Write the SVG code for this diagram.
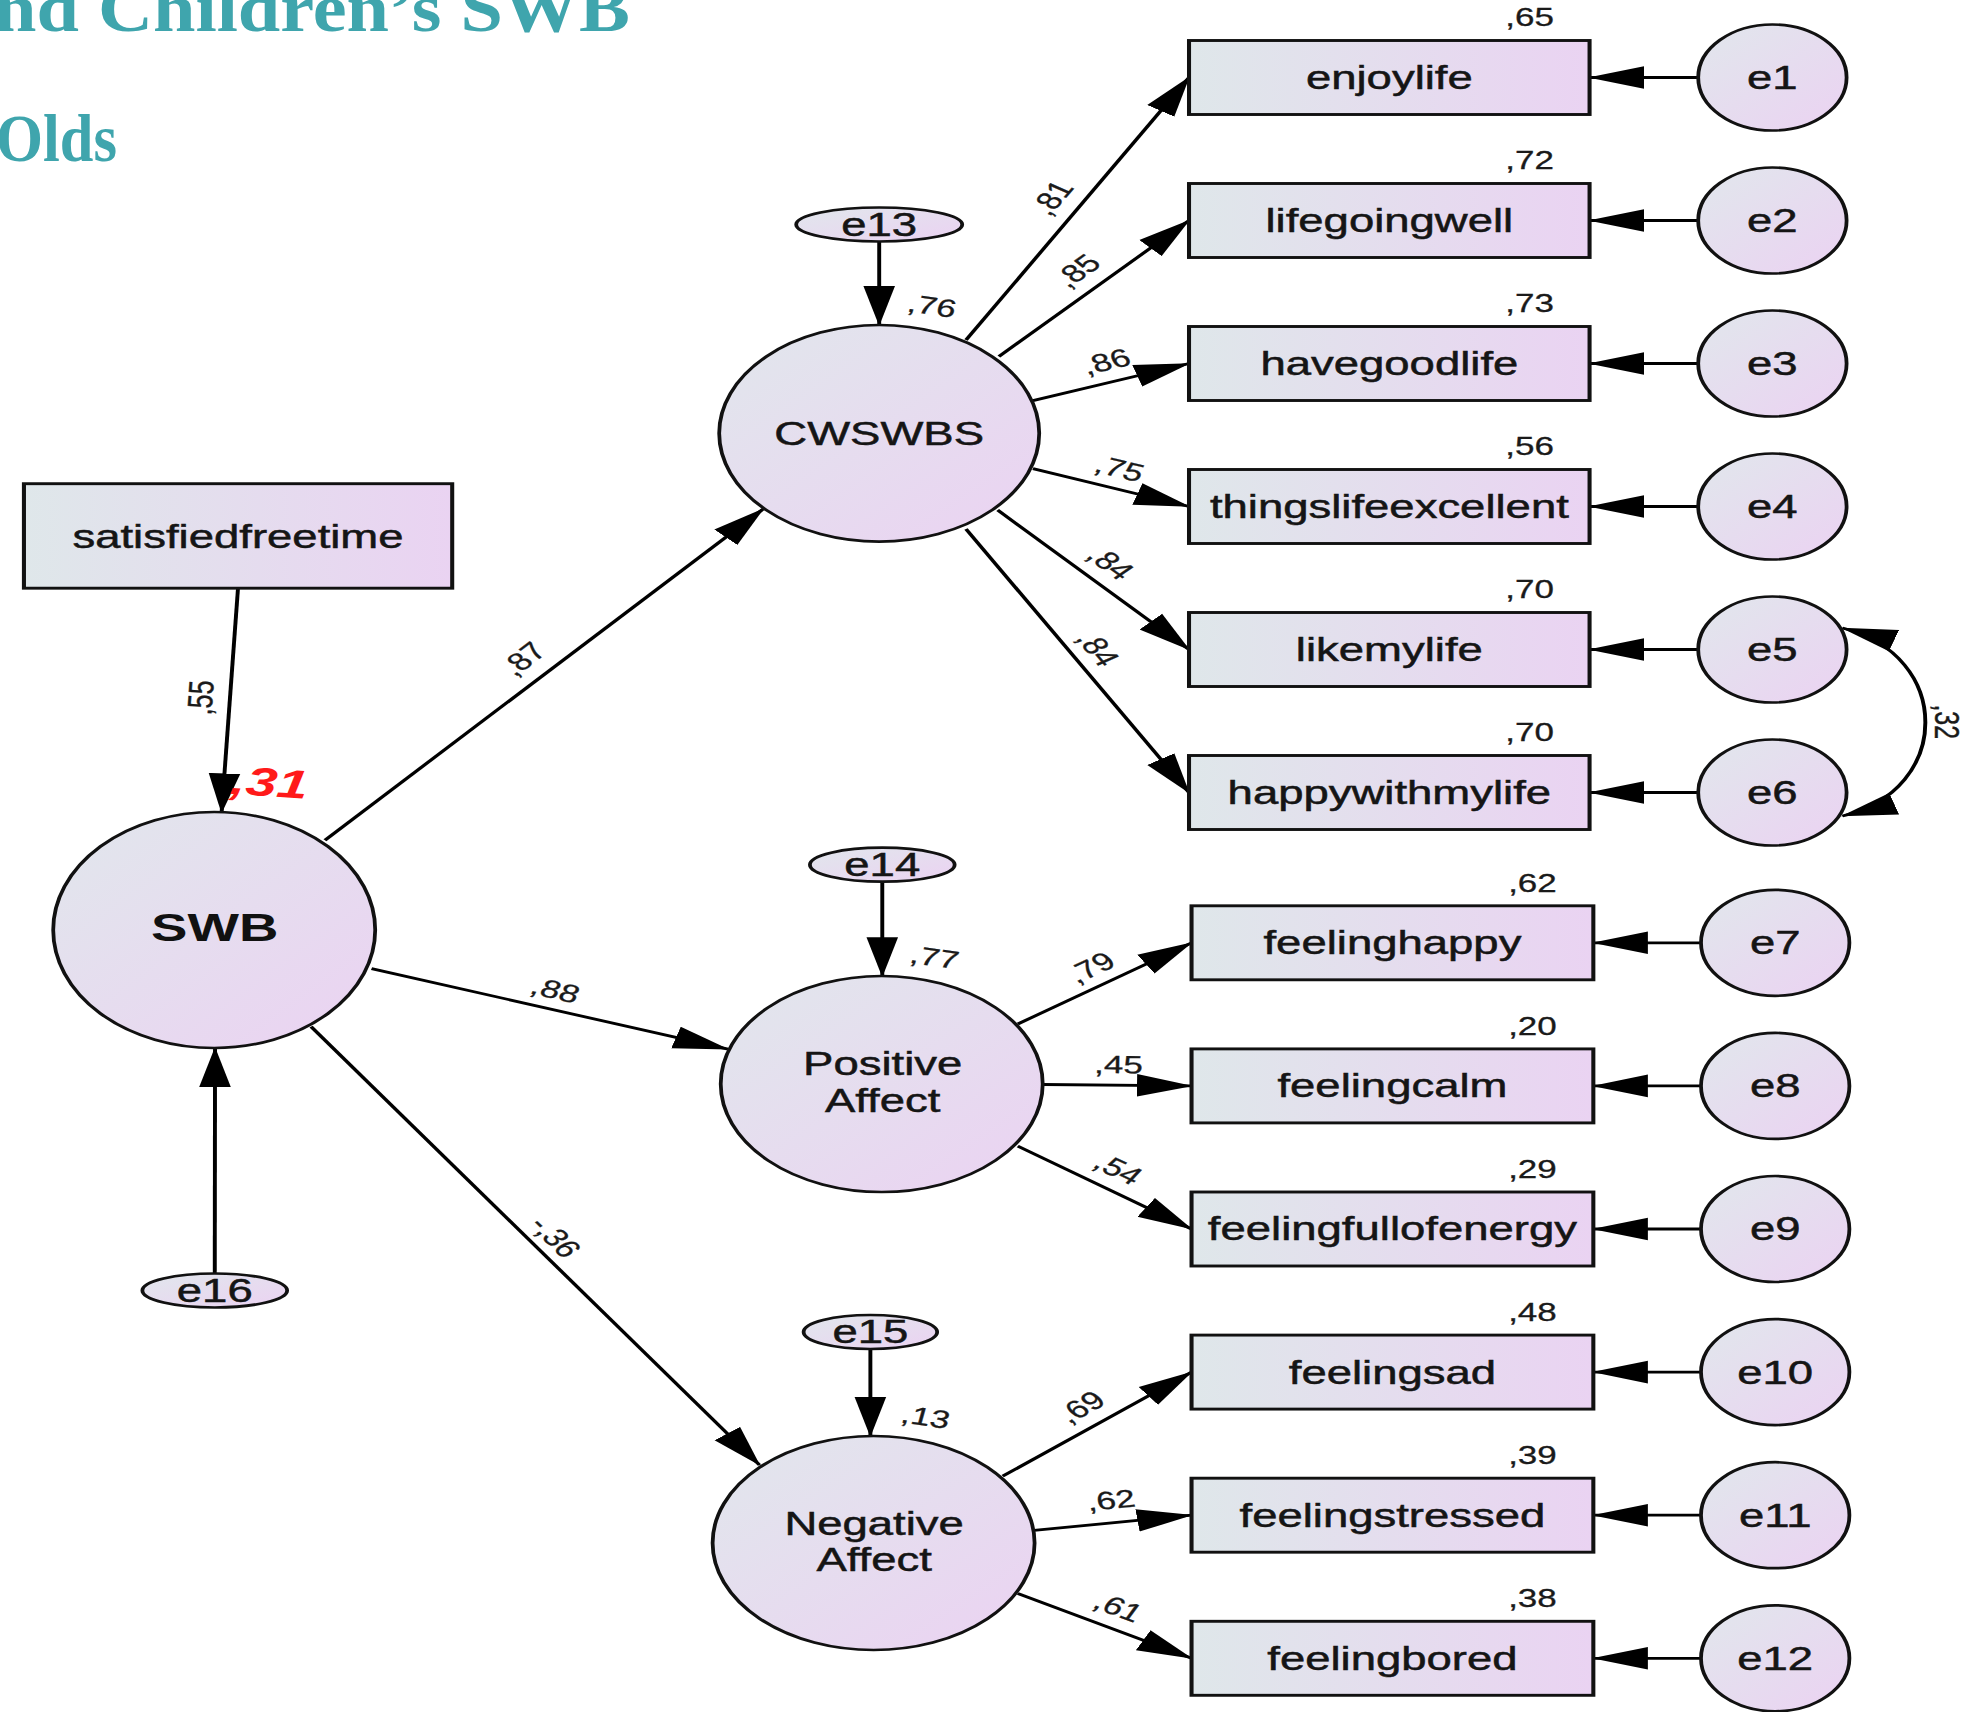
<svg xmlns="http://www.w3.org/2000/svg" width="1975" height="1712" viewBox="0 0 1975 1712">
  <defs>
    <linearGradient id="gRect" x1="0" y1="0" x2="1" y2="0">
      <stop offset="0" stop-color="#dfe7ea"/>
      <stop offset="1" stop-color="#ead3f2"/>
    </linearGradient>
    <linearGradient id="gOval" x1="0" y1="0" x2="1" y2="1">
      <stop offset="0" stop-color="#e1e7ec"/>
      <stop offset="1" stop-color="#ebd2f2"/>
    </linearGradient>
    <marker id="ah" markerUnits="userSpaceOnUse" markerWidth="40" markerHeight="24" viewBox="0 0 39 22" refX="38" refY="11" orient="auto-start-reverse">
      <path d="M0,0 L39,11 L0,22 z" fill="#000"/>
    </marker>
  </defs>
  <style>
    .box{fill:url(#gRect);stroke:#111;stroke-width:2.9}
    .oval{fill:url(#gOval);stroke:#111;stroke-width:2.7}
    .lbl{font-family:"Liberation Sans",Arial,sans-serif;font-size:32.5px;fill:#151515;stroke:#151515;stroke-width:0.5;text-anchor:middle}
    .big{font-family:"Liberation Sans",Arial,sans-serif;font-size:39px;font-weight:bold;fill:#111;text-anchor:middle}
    .coef{font-family:"Liberation Sans",Arial,sans-serif;font-size:25px;fill:#1a1a1a;stroke:#1a1a1a;stroke-width:0.3;text-anchor:middle}
    .r2{font-family:"Liberation Sans",Arial,sans-serif;font-size:25px;fill:#1a1a1a;stroke:#1a1a1a;stroke-width:0.3;text-anchor:end}
    .red{font-family:"Liberation Sans",Arial,sans-serif;font-size:40px;font-weight:bold;font-style:italic;fill:#ff1a1a;text-anchor:middle}
    .edge{stroke:#000;stroke-width:2.8;fill:none;marker-end:url(#ah)}
    .both{stroke:#000;stroke-width:2.8;fill:none;marker-start:url(#ah);marker-end:url(#ah)}
    .title{font-family:"Liberation Serif","Times New Roman",serif;font-weight:bold;fill:#3fa5ad;font-size:67px}
  </style>

  <!-- heading fragments -->
  <g id="heading">
    <text class="title" x="-6" y="31" textLength="636" lengthAdjust="spacingAndGlyphs">nd Children’s SWB</text>
    <text class="title" x="-4" y="161" textLength="121" lengthAdjust="spacingAndGlyphs">Olds</text>
  </g>

  <!-- path model, drawn in a horizontally widened frame -->
  <g id="model" transform="scale(1.4,1)">
    <g id="connectors">
      <path class="edge" d="M170,588.2 L158.3,812.4"/>
      <path class="edge" d="M232.1,840.2 L545.2,508.9"/>
      <path class="edge" d="M265.4,968.6 L520,1049.2"/>
      <path class="edge" d="M222.2,1026.6 L542.5,1465"/>
      <path class="edge" d="M153.4,1273.5 L153.6,1048"/>
      <path class="edge" d="M628,241.5 L628,325"/>
      <path class="edge" d="M630.2,881.7 L630.2,976.2"/>
      <path class="edge" d="M621.7,1349 L621.7,1436"/>

      <path class="edge" d="M690,340.1 L849.3,77.5"/>
      <path class="edge" d="M713.5,356.5 L849.3,220.5"/>
      <path class="edge" d="M737.8,400.6 L849.3,363.5"/>
      <path class="edge" d="M737.8,468.6 L849.3,506.5"/>
      <path class="edge" d="M712.6,510.1 L849.3,649.5"/>
      <path class="edge" d="M690,529 L849.3,792.5"/>
      <path class="edge" d="M727,1024 L851.1,942.8"/>
      <path class="edge" d="M745,1084.5 L851.1,1085.9"/>
      <path class="edge" d="M727,1146.2 L851.1,1229"/>
      <path class="edge" d="M716.2,1476.2 L851.1,1372.1"/>
      <path class="edge" d="M738.6,1530.4 L851.1,1515.2"/>
      <path class="edge" d="M727,1593.4 L851.1,1658.3"/>

      <path class="edge" d="M1213,77.5 L1135.4,77.5"/>
      <path class="edge" d="M1213,220.5 L1135.4,220.5"/>
      <path class="edge" d="M1213,363.5 L1135.4,363.5"/>
      <path class="edge" d="M1213,506.5 L1135.4,506.5"/>
      <path class="edge" d="M1213,649.5 L1135.4,649.5"/>
      <path class="edge" d="M1213,792.5 L1135.4,792.5"/>
      <path class="edge" d="M1215,942.8 L1138.1,942.8"/>
      <path class="edge" d="M1215,1085.9 L1138.1,1085.9"/>
      <path class="edge" d="M1215,1229 L1138.1,1229"/>
      <path class="edge" d="M1215,1372.1 L1138.1,1372.1"/>
      <path class="edge" d="M1215,1515.2 L1138.1,1515.2"/>
      <path class="edge" d="M1215,1658.3 L1138.1,1658.3"/>

      <path class="both" d="M1316,628 C1395,655 1395,790 1316,816"/>

      <!-- path coefficients -->
      <text class="coef" transform="translate(143,697.8) rotate(-87)" dy="0.35em">,55</text>
      <text class="coef" transform="translate(373.4,658.8) rotate(-46.6)" dy="0.35em">,87</text>
      <text class="coef" transform="translate(396.8,990) rotate(17.6)" dy="0.35em">,88</text>
      <text class="coef" transform="translate(396.8,1236.9) rotate(53.9)" dy="0.35em">-,36</text>
      <text class="coef" transform="translate(751.2,197.8) rotate(-58.7)" dy="0.35em">,81</text>
      <text class="coef" transform="translate(769.2,270.8) rotate(-45)" dy="0.35em">,85</text>
      <text class="coef" transform="translate(790,361.5) rotate(-18.2)" dy="0.35em">,86</text>
      <text class="coef" transform="translate(799.8,468.6) rotate(18.7)" dy="0.35em">,75</text>
      <text class="coef" transform="translate(793.5,563) rotate(45.6)" dy="0.35em">,84</text>
      <text class="coef" transform="translate(784.5,648.7) rotate(58.8)" dy="0.35em">,84</text>
      <text class="coef" transform="translate(779.1,967.4) rotate(-33.2)" dy="0.35em">,79</text>
      <text class="coef" transform="translate(799,1064.4) rotate(0.8)" dy="0.35em">,45</text>
      <text class="coef" transform="translate(799,1169) rotate(33.8)" dy="0.35em">,54</text>
      <text class="coef" transform="translate(772,1407) rotate(-37.6)" dy="0.35em">,69</text>
      <text class="coef" transform="translate(793.5,1500) rotate(-7.6)" dy="0.35em">,62</text>
      <text class="coef" transform="translate(799,1607.2) rotate(27.6)" dy="0.35em">,61</text>
      <text class="coef" transform="translate(1391,721.8) rotate(90)" dy="0.35em">,32</text>
    </g>

    <!-- exogenous indicator -->
    <g id="satisfiedfreetime">
      <rect class="box" x="17.1" y="483.7" width="305.9" height="104.5"/>
      <text class="lbl" x="170" y="548">satisfiedfreetime</text>
    </g>

    <!-- latent variables -->
    <g id="SWB">
      <ellipse class="oval" cx="153" cy="930" rx="115" ry="118"/>
      <text class="big" x="153.4" y="941">SWB</text>
      <text class="red" transform="translate(192.5,782.2) rotate(5)" dy="0.35em">,31</text>
    </g>
    <g id="CWSWBS">
      <ellipse class="oval" cx="628" cy="433.3" rx="114.3" ry="108.3"/>
      <text class="lbl" x="628" y="445">CWSWBS</text>
      <text class="coef" transform="translate(665.8,306) rotate(11)" dy="0.35em">,76</text>
    </g>
    <g id="PositiveAffect">
      <ellipse class="oval" cx="629.8" cy="1084" rx="115" ry="108"/>
      <text class="lbl" x="630.5" y="1075.5">Positive</text>
      <text class="lbl" x="630.5" y="1112.5">Affect</text>
      <text class="coef" transform="translate(667.6,957.3) rotate(11)" dy="0.35em">,77</text>
    </g>
    <g id="NegativeAffect">
      <ellipse class="oval" cx="624" cy="1543" rx="115" ry="107"/>
      <text class="lbl" x="624.4" y="1535.5">Negative</text>
      <text class="lbl" x="624.4" y="1571">Affect</text>
      <text class="coef" transform="translate(661.3,1417) rotate(11)" dy="0.35em">,13</text>
    </g>

    <!-- disturbances -->
    <g id="e13"><ellipse class="oval" cx="628" cy="224.5" rx="59.3" ry="17"/><text class="lbl" x="628" y="236">e13</text></g>
    <g id="e14"><ellipse class="oval" cx="630.2" cy="864.7" rx="51.7" ry="17"/><text class="lbl" x="630.2" y="876">e14</text></g>
    <g id="e15"><ellipse class="oval" cx="621.7" cy="1332" rx="47.7" ry="17"/><text class="lbl" x="621.7" y="1343.5">e15</text></g>
    <g id="e16"><ellipse class="oval" cx="153.4" cy="1290.5" rx="51.7" ry="17"/><text class="lbl" x="153.4" y="1302">e16</text></g>

    <!-- observed indicators -->
    <g id="enjoylife"><rect class="box" x="849.3" y="40.5" width="286.1" height="74"/><text class="lbl" x="992.4" y="89">enjoylife</text><text class="r2" x="1110" y="26.5">,65</text></g>
    <g id="lifegoingwell"><rect class="box" x="849.3" y="183.5" width="286.1" height="74"/><text class="lbl" x="992.4" y="232">lifegoingwell</text><text class="r2" x="1110" y="169.5">,72</text></g>
    <g id="havegoodlife"><rect class="box" x="849.3" y="326.5" width="286.1" height="74"/><text class="lbl" x="992.4" y="375">havegoodlife</text><text class="r2" x="1110" y="312.5">,73</text></g>
    <g id="thingslifeexcellent"><rect class="box" x="849.3" y="469.5" width="286.1" height="74"/><text class="lbl" x="992.4" y="518">thingslifeexcellent</text><text class="r2" x="1110" y="455.5">,56</text></g>
    <g id="likemylife"><rect class="box" x="849.3" y="612.5" width="286.1" height="74"/><text class="lbl" x="992.4" y="661">likemylife</text><text class="r2" x="1110" y="598.5">,70</text></g>
    <g id="happywithmylife"><rect class="box" x="849.3" y="755.5" width="286.1" height="74"/><text class="lbl" x="992.4" y="804">happywithmylife</text><text class="r2" x="1110" y="741.5">,70</text></g>

    <g id="feelinghappy"><rect class="box" x="851.1" y="905.8" width="287" height="74"/><text class="lbl" x="994.6" y="954.3">feelinghappy</text><text class="r2" x="1112" y="891.8">,62</text></g>
    <g id="feelingcalm"><rect class="box" x="851.1" y="1048.9" width="287" height="74"/><text class="lbl" x="994.6" y="1097.4">feelingcalm</text><text class="r2" x="1112" y="1034.9">,20</text></g>
    <g id="feelingfullofenergy"><rect class="box" x="851.1" y="1192" width="287" height="74"/><text class="lbl" x="994.6" y="1240.5">feelingfullofenergy</text><text class="r2" x="1112" y="1178">,29</text></g>
    <g id="feelingsad"><rect class="box" x="851.1" y="1335.1" width="287" height="74"/><text class="lbl" x="994.6" y="1383.6">feelingsad</text><text class="r2" x="1112" y="1321.1">,48</text></g>
    <g id="feelingstressed"><rect class="box" x="851.1" y="1478.2" width="287" height="74"/><text class="lbl" x="994.6" y="1526.7">feelingstressed</text><text class="r2" x="1112" y="1464.2">,39</text></g>
    <g id="feelingbored"><rect class="box" x="851.1" y="1621.3" width="287" height="74"/><text class="lbl" x="994.6" y="1669.8">feelingbored</text><text class="r2" x="1112" y="1607.3">,38</text></g>

    <!-- measurement errors -->
    <g id="e1"><circle class="oval" cx="1266" cy="77.5" r="53"/><text class="lbl" x="1266" y="89">e1</text></g>
    <g id="e2"><circle class="oval" cx="1266" cy="220.5" r="53"/><text class="lbl" x="1266" y="232">e2</text></g>
    <g id="e3"><circle class="oval" cx="1266" cy="363.5" r="53"/><text class="lbl" x="1266" y="375">e3</text></g>
    <g id="e4"><circle class="oval" cx="1266" cy="506.5" r="53"/><text class="lbl" x="1266" y="518">e4</text></g>
    <g id="e5"><circle class="oval" cx="1266" cy="649.5" r="53"/><text class="lbl" x="1266" y="661">e5</text></g>
    <g id="e6"><circle class="oval" cx="1266" cy="792.5" r="53"/><text class="lbl" x="1266" y="804">e6</text></g>
    <g id="e7"><circle class="oval" cx="1268" cy="942.8" r="53"/><text class="lbl" x="1268" y="954.3">e7</text></g>
    <g id="e8"><circle class="oval" cx="1268" cy="1085.9" r="53"/><text class="lbl" x="1268" y="1097.4">e8</text></g>
    <g id="e9"><circle class="oval" cx="1268" cy="1229" r="53"/><text class="lbl" x="1268" y="1240.5">e9</text></g>
    <g id="e10"><circle class="oval" cx="1268" cy="1372.1" r="53"/><text class="lbl" x="1268" y="1383.6">e10</text></g>
    <g id="e11"><circle class="oval" cx="1268" cy="1515.2" r="53"/><text class="lbl" x="1268" y="1526.7">e11</text></g>
    <g id="e12"><circle class="oval" cx="1268" cy="1658.3" r="53"/><text class="lbl" x="1268" y="1669.8">e12</text></g>
  </g>
</svg>
